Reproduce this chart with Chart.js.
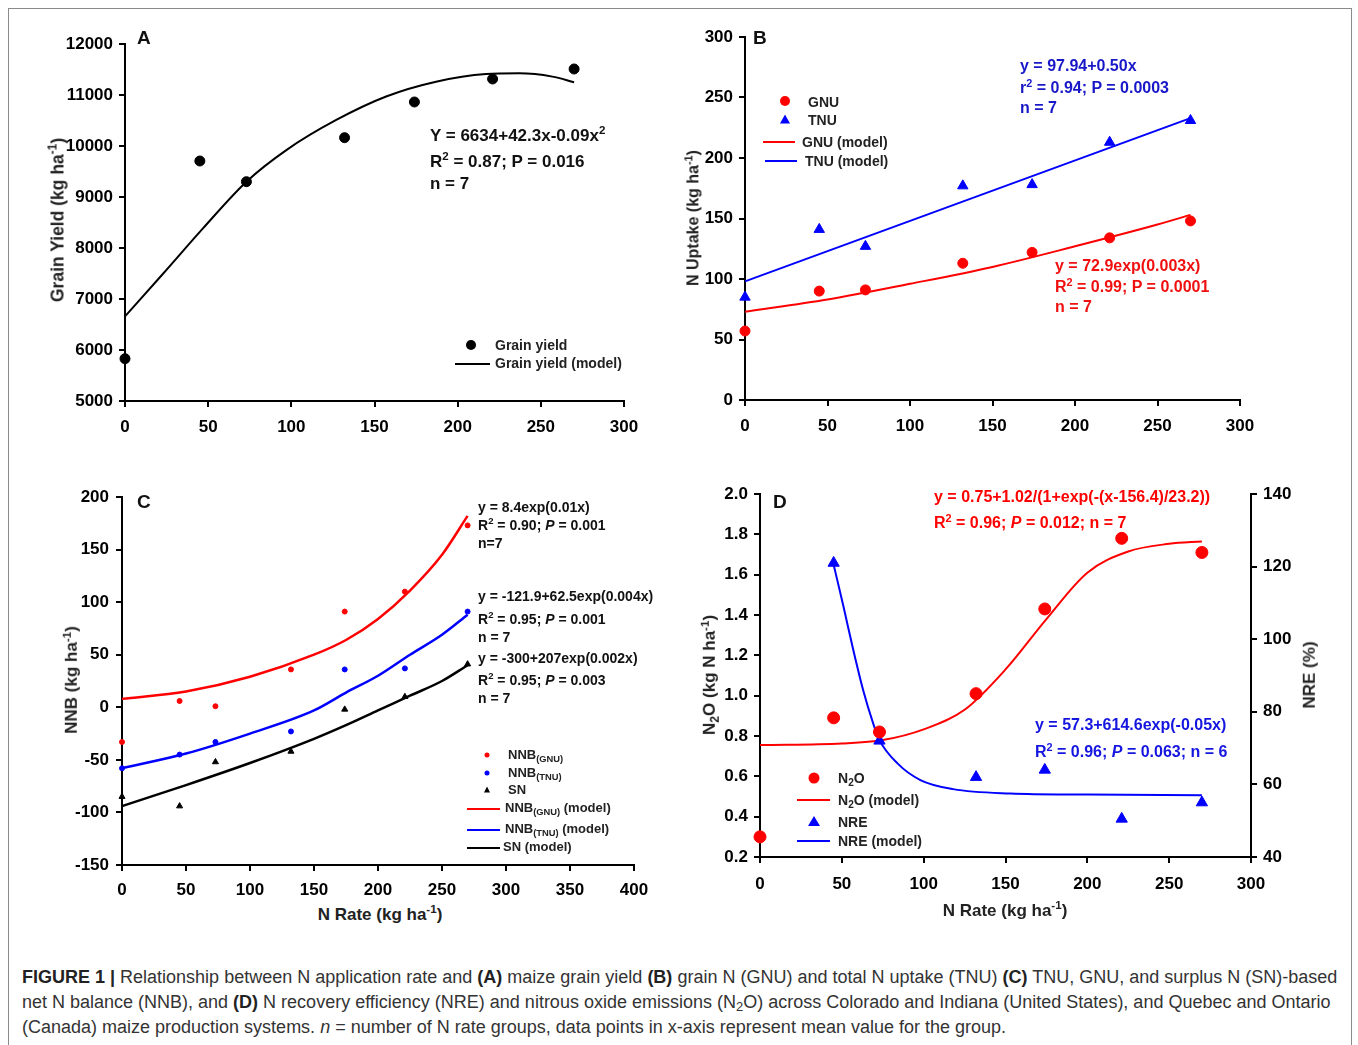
<!DOCTYPE html>
<html>
<head>
<meta charset="utf-8">
<script src="https://cdn.jsdelivr.net/npm/chart.js@4.4.0/dist/chart.umd.min.js"></script>
<style>
  body { margin: 0; background: #fff; }
  #fig { position: relative; width: 1358px; height: 1045px; overflow: hidden; font-family: "Liberation Sans", Arial, sans-serif; color: #111; }
  #frame { position: absolute; left: 8px; top: 8px; width: 1344px; height: 1100px; border: 1px solid #8a8a8a; box-sizing: border-box; }
  canvas { position: absolute; }
  .t { position: absolute; white-space: nowrap; font-weight: bold; transform: translateY(-50%); line-height: 1.2; }
  .rot { position: absolute; white-space: nowrap; font-weight: bold; transform: translate(-50%, -50%) rotate(-90deg); line-height: 1.2; }
  .ctr { position: absolute; white-space: nowrap; font-weight: bold; transform: translate(-50%, -50%); line-height: 1.2; }
  sup { font-size: 68%; vertical-align: 0.55em; line-height: 0; }
  sub { font-size: 72%; vertical-align: -0.3em; line-height: 0; }
  .dot { position: absolute; border-radius: 50%; transform: translate(-50%, -50%); }
  .tri { position: absolute; width: 0; height: 0; transform: translate(-50%, -60%); }
  .ln { position: absolute; height: 2px; transform: translateY(-50%); }
  .cap { position: absolute; left: 22px; white-space: nowrap; font-family: "Liberation Sans Narrow", "Liberation Sans", Arial, sans-serif; font-size: 18px; color: #333; transform: translateY(-50%); }
  .cap b { color: #222; }
</style>
</head>
<body>
<div id="fig">
  <div id="frame"></div>

  <canvas id="cA" width="680" height="450" style="left:0;top:0"></canvas>
  <canvas id="cB" width="678" height="450" style="left:680px;top:0"></canvas>
  <canvas id="cC" width="680" height="440" style="left:0;top:460px"></canvas>
  <canvas id="cD" width="678" height="440" style="left:680px;top:460px"></canvas>

  <!-- Panel A -->
  <div class="t" style="left:137px;top:38px;font-size:19px">A</div>
  <div class="rot" style="left:58px;top:220px;font-size:17.5px;color:#222">Grain Yield (kg ha<sup>-1</sup>)</div>
  <div class="t" style="left:430px;top:136px;font-size:17px">Y = 6634+42.3x-0.09x<sup>2</sup></div>
  <div class="t" style="left:430px;top:162px;font-size:17px">R<sup>2</sup> = 0.87; P = 0.016</div>
  <div class="t" style="left:430px;top:184px;font-size:17px">n = 7</div>
  <div class="dot" style="left:471px;top:345px;width:10px;height:10px;background:#000"></div>
  <div class="t" style="left:495px;top:345px;font-size:14px;color:#222">Grain yield</div>
  <div class="ln" style="left:455px;top:364px;width:35px;background:#000"></div>
  <div class="t" style="left:495px;top:363px;font-size:14px;color:#222">Grain yield (model)</div>

  <!-- Panel B -->
  <div class="t" style="left:753px;top:38px;font-size:19px">B</div>
  <div class="rot" style="left:693px;top:218px;font-size:16px;color:#222">N Uptake (kg ha<sup>-1</sup>)</div>
  <div class="dot" style="left:785px;top:101px;width:10px;height:10px;background:#f00"></div>
  <div class="t" style="left:808px;top:102px;font-size:14px;color:#222">GNU</div>
  <div class="tri" style="left:785px;top:120px;border-left:5px solid transparent;border-right:5px solid transparent;border-bottom:9px solid #00f"></div>
  <div class="t" style="left:808px;top:120px;font-size:14px;color:#222">TNU</div>
  <div class="ln" style="left:763px;top:142px;width:32px;background:#f00"></div>
  <div class="t" style="left:802px;top:142px;font-size:14px;color:#222">GNU (model)</div>
  <div class="ln" style="left:765px;top:161px;width:32px;background:#00f"></div>
  <div class="t" style="left:805px;top:161px;font-size:14px;color:#222">TNU (model)</div>
  <div class="t" style="left:1020px;top:66px;font-size:16px;color:#1818c8">y = 97.94+0.50x</div>
  <div class="t" style="left:1020px;top:88px;font-size:16px;color:#1818c8">r<sup>2</sup> = 0.94; P = 0.0003</div>
  <div class="t" style="left:1020px;top:108px;font-size:16px;color:#1818c8">n = 7</div>
  <div class="t" style="left:1055px;top:266px;font-size:16px;color:#f01010">y = 72.9exp(0.003x)</div>
  <div class="t" style="left:1055px;top:287px;font-size:16px;color:#f01010">R<sup>2</sup> = 0.99; P = 0.0001</div>
  <div class="t" style="left:1055px;top:307px;font-size:16px;color:#f01010">n = 7</div>

  <!-- Panel C -->
  <div class="t" style="left:137px;top:502px;font-size:19px">C</div>
  <div class="rot" style="left:72px;top:680px;font-size:17px;color:#222">NNB (kg ha<sup>-1</sup>)</div>
  <div class="ctr" style="left:380px;top:915px;font-size:17px;color:#222">N Rate (kg ha<sup>-1</sup>)</div>
  <div class="t" style="left:478px;top:507px;font-size:14px">y = 8.4exp(0.01x)</div>
  <div class="t" style="left:478px;top:525px;font-size:14px">R<sup>2</sup> = 0.90; <i>P</i> = 0.001</div>
  <div class="t" style="left:478px;top:543px;font-size:14px">n=7</div>
  <div class="t" style="left:478px;top:596px;font-size:14px">y = -121.9+62.5exp(0.004x)</div>
  <div class="t" style="left:478px;top:619px;font-size:14px">R<sup>2</sup> = 0.95; <i>P</i> = 0.001</div>
  <div class="t" style="left:478px;top:637px;font-size:14px">n = 7</div>
  <div class="t" style="left:478px;top:658px;font-size:14px">y = -300+207exp(0.002x)</div>
  <div class="t" style="left:478px;top:680px;font-size:14px">R<sup>2</sup> = 0.95; <i>P</i> = 0.003</div>
  <div class="t" style="left:478px;top:698px;font-size:14px">n = 7</div>
  <div class="dot" style="left:487px;top:755px;width:5px;height:5px;background:#f00"></div>
  <div class="t" style="left:508px;top:755px;font-size:13px;color:#222">NNB<sub>(GNU)</sub></div>
  <div class="dot" style="left:487px;top:773px;width:5px;height:5px;background:#00f"></div>
  <div class="t" style="left:508px;top:773px;font-size:13px;color:#222">NNB<sub>(TNU)</sub></div>
  <div class="tri" style="left:487px;top:790px;border-left:3px solid transparent;border-right:3px solid transparent;border-bottom:6px solid #000"></div>
  <div class="t" style="left:508px;top:790px;font-size:13px;color:#222">SN</div>
  <div class="ln" style="left:467px;top:809px;width:33px;background:#f00"></div>
  <div class="t" style="left:505px;top:808px;font-size:13px;color:#222">NNB<sub>(GNU)</sub> (model)</div>
  <div class="ln" style="left:467px;top:830px;width:33px;background:#00f"></div>
  <div class="t" style="left:505px;top:829px;font-size:13px;color:#222">NNB<sub>(TNU)</sub> (model)</div>
  <div class="ln" style="left:467px;top:848px;width:33px;background:#000"></div>
  <div class="t" style="left:503px;top:847px;font-size:13px;color:#222">SN (model)</div>

  <!-- Panel D -->
  <div class="t" style="left:773px;top:502px;font-size:19px">D</div>
  <div class="rot" style="left:710px;top:675px;font-size:17px;color:#222">N<sub>2</sub>O (kg N ha<sup>-1</sup>)</div>
  <div class="rot" style="left:1310px;top:675px;font-size:17px;color:#222">NRE (%)</div>
  <div class="ctr" style="left:1005px;top:911px;font-size:17px;color:#222">N Rate (kg ha<sup>-1</sup>)</div>
  <div class="t" style="left:934px;top:497px;font-size:16px;color:#f00">y = 0.75+1.02/(1+exp(-(x-156.4)/23.2))</div>
  <div class="t" style="left:934px;top:523px;font-size:16px;color:#f00">R<sup>2</sup> = 0.96; <i>P</i> = 0.012; n = 7</div>
  <div class="t" style="left:1035px;top:725px;font-size:16px;color:#1515e0">y = 57.3+614.6exp(-0.05x)</div>
  <div class="t" style="left:1035px;top:752px;font-size:16px;color:#1515e0">R<sup>2</sup> = 0.96; <i>P</i> = 0.063; n = 6</div>
  <div class="dot" style="left:814px;top:778px;width:11px;height:11px;background:#f00"></div>
  <div class="t" style="left:838px;top:778px;font-size:14px;color:#222">N<sub>2</sub>O</div>
  <div class="ln" style="left:797px;top:800px;width:33px;background:#f00"></div>
  <div class="t" style="left:838px;top:800px;font-size:14px;color:#222">N<sub>2</sub>O (model)</div>
  <div class="tri" style="left:814px;top:822px;border-left:6px solid transparent;border-right:6px solid transparent;border-bottom:10px solid #00f"></div>
  <div class="t" style="left:838px;top:822px;font-size:14px;color:#222">NRE</div>
  <div class="ln" style="left:797px;top:841px;width:33px;background:#00f"></div>
  <div class="t" style="left:838px;top:841px;font-size:14px;color:#222">NRE (model)</div>

  <!-- caption -->
  <div class="cap" style="top:977px"><b>FIGURE 1 |</b> Relationship between N application rate and <b>(A)</b> maize grain yield <b>(B)</b> grain N (GNU) and total N uptake (TNU) <b>(C)</b> TNU, GNU, and surplus N (SN)-based</div>
  <div class="cap" style="top:1002px">net N balance (NNB), and <b>(D)</b> N recovery efficiency (NRE) and nitrous oxide emissions (N<sub>2</sub>O) across Colorado and Indiana (United States), and Quebec and Ontario</div>
  <div class="cap" style="top:1027px">(Canada) maize production systems. <i>n</i> = number of N rate groups, data points in x-axis represent mean value for the group.</div>
</div>

<script>
'use strict';

// N rate groups (kg ha-1), shared by every panel
const nRate = [0, 45, 73, 132, 174, 221, 270];

// A: grain yield
const grainYield = [5830, 9706, 9300, 10163, 10863, 11314, 11510];
const yieldModelX = [0, 23, 47, 73, 97, 127, 157, 187, 217, 237, 257, 270];
const yieldModelY = [6660, 7500, 8390, 9300, 9920, 10510, 10970, 11260, 11410, 11425, 11360, 11250];

// B: N uptake
const gnu = [57, 90, 91, 113, 122, 134, 148];
const tnu = [85, 141, 127, 177, 178, 213, 231];
const gnuModelX = [0, 50, 100, 150, 200, 250, 270];
const gnuModelY = [73, 83, 96, 110, 127, 145, 153];
const tnuModelX = [0, 270];
const tnuModelY = [98, 233];

// C: net N balance
const nnbGnu = [-33, 6, 1, 36, 91, 110, 173];
const nnbTnu = [-58, -45, -33, -23, 36, 37, 91];
const surplusN = [-85, -94, -52, -42, -2, 10, 41];
const nnbModelX = [0, 50, 100, 150, 175, 200, 225, 250, 270];
const nnbGnuModel = [8, 15, 29, 50, 64, 84, 111, 145, 182];
const nnbTnuModel = [-58, -44, -25, -3, 14, 30, 50, 69, 88];
const surplusModel = [-94, -74, -53, -30, -17, -3, 11, 25, 40];

// D: N2O and NRE
const n2o = [0.30, 0.89, 0.82, 1.01, 1.43, 1.78, 1.71];
const nreX = [45, 73, 132, 174, 221, 270];
const nre = [121, 72, 62, 64, 50.5, 55];
const n2oModelX = [0, 50, 75, 100, 125, 150, 175, 200, 225, 250, 270];
const n2oModelY = [0.755, 0.763, 0.78, 0.833, 0.93, 1.13, 1.38, 1.61, 1.715, 1.753, 1.765];
const nreModelX = [45, 51, 57, 63, 69, 73, 84, 98, 118, 153, 200, 270];
const nreModelY = [120.5, 109, 97, 86, 77, 72.2, 65.8, 61.2, 58.7, 57.5, 57.2, 57.0];

const RED = '#ff0000';
const BLUE = '#0000ff';
const BLACK = '#000000';
const TICK_FONT = { family: '"Liberation Sans", Arial, sans-serif', size: 17, weight: 'bold' };

const pts = (xs, ys) => xs.map((x, i) => ({ x, y: ys[i] }));

function axis(o) {
    return {
        type: 'linear',
        position: o.position,
        min: o.min,
        max: o.max,
        afterFit: o.fit,
        border: { display: true, color: BLACK, width: 2 },
        grid: { drawOnChartArea: false, drawTicks: true, tickLength: 6, color: BLACK, lineWidth: 2 },
        ticks: {
            stepSize: o.step,
            color: BLACK,
            font: TICK_FONT,
            padding: o.pad,
            autoSkip: false,
            maxRotation: 0,
            callback: o.fmt || (v => v),
        },
    };
}

function markers(data, color, style, r) {
    return {
        data,
        pointStyle: style,
        pointRadius: r,
        backgroundColor: color,
        borderColor: color,
        borderWidth: 1,
        clip: false,
    };
}

function curve(data, color, width, axisId) {
    const ds = {
        data,
        showLine: true,
        pointRadius: 0,
        borderColor: color,
        borderWidth: width,
        cubicInterpolationMode: 'monotone',
        fill: false,
        clip: false,
    };
    if (axisId) ds.yAxisID = axisId;
    return ds;
}

function makeChart(id, datasets, padding, scales) {
    return new Chart(document.getElementById(id), {
        type: 'scatter',
        data: { datasets },
        options: {
            responsive: false,
            devicePixelRatio: 1,
            animation: false,
            layout: { padding },
            plugins: { legend: { display: false }, tooltip: { enabled: false } },
            scales,
        },
    });
}

// Panel A
makeChart('cA', [
    markers(pts(nRate, grainYield), BLACK, 'circle', 5),
    curve(pts(yieldModelX, yieldModelY), BLACK, 2),
], { top: 44, right: 56, left: 0, bottom: 0 }, {
    x: axis({ position: 'bottom', min: 0, max: 300, step: 50, pad: 10, fit: s => { s.height = 49; } }),
    y: axis({ position: 'left', min: 5000, max: 12000, step: 1000, pad: 6, fit: s => { s.width = 125; } }),
});

// Panel B
makeChart('cB', [
    markers(pts(nRate, gnu), RED, 'circle', 5),
    markers(pts(nRate, tnu), BLUE, 'triangle', 6),
    curve(pts(gnuModelX, gnuModelY), RED, 2),
    curve(pts(tnuModelX, tnuModelY), BLUE, 2),
], { top: 37, right: 118, left: 0, bottom: 0 }, {
    x: axis({ position: 'bottom', min: 0, max: 300, step: 50, pad: 10, fit: s => { s.height = 50; } }),
    y: axis({ position: 'left', min: 0, max: 300, step: 50, pad: 6, fit: s => { s.width = 65; } }),
});

// Panel C
makeChart('cC', [
    markers(pts(nRate, nnbGnu), RED, 'circle', 2.5),
    markers(pts(nRate, nnbTnu), BLUE, 'circle', 2.5),
    markers(pts(nRate, surplusN), BLACK, 'triangle', 3.5),
    curve(pts(nnbModelX, nnbGnuModel), RED, 2.5),
    curve(pts(nnbModelX, nnbTnuModel), BLUE, 2.5),
    curve(pts(nnbModelX, surplusModel), BLACK, 2.5),
], { top: 37, right: 46, left: 0, bottom: 0 }, {
    x: axis({ position: 'bottom', min: 0, max: 400, step: 50, pad: 9, fit: s => { s.height = 35; } }),
    y: axis({ position: 'left', min: -150, max: 200, step: 50, pad: 7, fit: s => { s.width = 122; } }),
});

// Panel D
makeChart('cD', [
    markers(pts(nRate, n2o), RED, 'circle', 6),
    Object.assign(markers(pts(nreX, nre), BLUE, 'triangle', 6.5), { yAxisID: 'y1' }),
    curve(pts(n2oModelX, n2oModelY), RED, 2),
    curve(pts(nreModelX, nreModelY), BLUE, 2, 'y1'),
], { top: 34, right: 47, left: 0, bottom: 0 }, {
    x: axis({ position: 'bottom', min: 0, max: 300, step: 50, pad: 11, fit: s => { s.height = 43; } }),
    y: axis({ position: 'left', min: 0.2, max: 2.0, step: 0.2, pad: 6, fmt: v => v.toFixed(1), fit: s => { s.width = 80; } }),
    y1: axis({ position: 'right', min: 40, max: 140, step: 20, pad: 6, fit: s => { s.width = 60; } }),
});
</script>
</body>
</html>
